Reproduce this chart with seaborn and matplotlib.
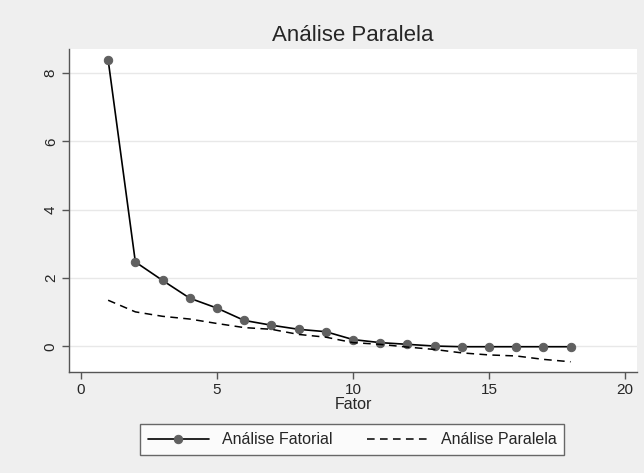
import numpy as np
import pandas as pd
import matplotlib
matplotlib.use("Agg")
import matplotlib.pyplot as plt
import seaborn as sns

fator = list(range(1, 19))
analise_fatorial = [8.38, 2.47, 1.93, 1.41, 1.12, 0.76, 0.62, 0.50, 0.43, 0.20,
                    0.11, 0.06, 0.01, -0.01, -0.01, -0.01, -0.01, -0.01]
analise_paralela = [1.35, 1.01, 0.88, 0.80, 0.67, 0.55, 0.50, 0.35, 0.27, 0.11,
                    0.06, -0.02, -0.09, -0.19, -0.25, -0.28, -0.38, -0.45]

df = pd.DataFrame({'Fator': fator,
                   'fatorial': analise_fatorial,
                   'paralela': analise_paralela})

sns.set_style("white")
plt.rcParams['font.family'] = ['Liberation Sans', 'DejaVu Sans']

bg = '#efefef'
fig = plt.figure(figsize=(6.44, 4.73), dpi=100, facecolor=bg)
ax = fig.add_axes([0.1071, 0.2142, 0.882, 0.6822])
ax.set_facecolor('white')

sns.lineplot(data=df, x='Fator', y='fatorial', ax=ax, color='black', lw=1.2,
             marker='o', markersize=6, markerfacecolor='#606060',
             markeredgecolor='#606060', label='Análise Fatorial')
sns.lineplot(data=df, x='Fator', y='paralela', ax=ax, color='black', lw=1.1,
             dashes=False, label='Análise Paralela')
ax.lines[1].set_dashes([5, 3.5])

ax.set_xlim(-0.44, 20.44)
ax.set_ylim(-0.74, 8.7)
ax.set_xticks([0, 5, 10, 15, 20])
ax.set_yticks([0, 2, 4, 6, 8])
ax.yaxis.grid(True, color='#e8e8e8', lw=1)
ax.set_axisbelow(True)

for s in ['top', 'right']:
    ax.spines[s].set_visible(False)
for s in ['left', 'bottom']:
    ax.spines[s].set_color('#555555')
    ax.spines[s].set_linewidth(1.0)

ax.tick_params(axis='both', direction='out', length=5, width=1, color='#555555',
               labelsize=11, pad=3, bottom=True, left=True)
plt.setp(ax.get_yticklabels(), rotation=90, va='center')

ax.set_xlabel('Fator', fontsize=11.5, labelpad=0)
ax.set_ylabel('')
ax.set_title('Análise Paralela', fontsize=16, pad=6)

leg = ax.legend(ncol=2, loc='center', bbox_to_anchor=(0.547, 0.070),
                bbox_transform=fig.transFigure, fontsize=11.5, frameon=True,
                fancybox=False, edgecolor='#444444', handlelength=3.8,
                columnspacing=2.2, borderpad=0.5, handletextpad=0.8)
leg.get_frame().set_linewidth(1.0)

fig.savefig('out.png', dpi=100, facecolor=bg)
